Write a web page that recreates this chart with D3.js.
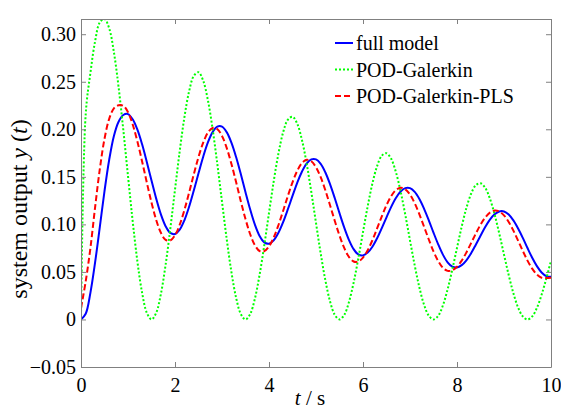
<!DOCTYPE html>
<html>
<head>
<meta charset="utf-8">
<script src="https://d3js.org/d3.v7.min.js"></script>
<style>
body { margin: 0; background: #fff; }
svg text { font-family: "Liberation Serif", "DejaVu Serif", serif; fill: #000; }
.axis line, .axis path { stroke: #808080; }
</style>
</head>
<body>
<script>
var width = 561, height = 409;
var margin = {top: 19, right: 10, bottom: 42, left: 81};
var serif = "Liberation Serif, DejaVu Serif, serif";

// time samples (s), step 0.1
var time = d3.range(0, 101).map(function(i) { return i / 10; });

// full model
var fullModel = [
 0.0000, 0.0060, 0.0280, 0.0600, 0.0970, 0.1350, 0.1680, 0.1930, 0.2080, 0.2150,
 0.2160, 0.2105, 0.1996, 0.1842, 0.1657, 0.1461, 0.1271, 0.1105, 0.0981, 0.0910,
 0.0898, 0.0944, 0.1043, 0.1185, 0.1356, 0.1537, 0.1712, 0.1862, 0.1970, 0.2028,
 0.2028, 0.1970, 0.1860, 0.1708, 0.1529, 0.1338, 0.1156, 0.0997, 0.0878, 0.0810,
 0.0797, 0.0833, 0.0911, 0.1023, 0.1157, 0.1299, 0.1437, 0.1554, 0.1639, 0.1684,
 0.1684, 0.1637, 0.1546, 0.1421, 0.1275, 0.1118, 0.0968, 0.0838, 0.0740, 0.0684,
 0.0674, 0.0703, 0.0765, 0.0854, 0.0961, 0.1074, 0.1184, 0.1277, 0.1345, 0.1381,
 0.1381, 0.1342, 0.1267, 0.1164, 0.1043, 0.0913, 0.0790, 0.0682, 0.0601, 0.0555,
 0.0546, 0.0571, 0.0622, 0.0696, 0.0786, 0.0880, 0.0972, 0.1050, 0.1106, 0.1136,
 0.1136, 0.1104, 0.1042, 0.0957, 0.0858, 0.0751, 0.0649, 0.0561, 0.0494, 0.0456,
 0.0449
];

// POD-Galerkin
var podGalerkin = [
 0.0000, 0.2159, 0.2593, 0.2925, 0.3124, 0.3160, 0.3062, 0.2811, 0.2443, 0.1994,
 0.1508, 0.1032, 0.0610, 0.0280, 0.0071, 0.0000, 0.0070, 0.0269, 0.0574, 0.0953,
 0.1366, 0.1770, 0.2126, 0.2399, 0.2562, 0.2600, 0.2511, 0.2306, 0.2004, 0.1636,
 0.1237, 0.0846, 0.0500, 0.0229, 0.0058, 0.0000, 0.0057, 0.0220, 0.0471, 0.0782,
 0.1120, 0.1452, 0.1743, 0.1967, 0.2100, 0.2132, 0.2059, 0.1890, 0.1643, 0.1341,
 0.1015, 0.0694, 0.0410, 0.0188, 0.0048, 0.0000, 0.0047, 0.0181, 0.0386, 0.0641,
 0.0919, 0.1191, 0.1430, 0.1613, 0.1723, 0.1748, 0.1689, 0.1550, 0.1347, 0.1100,
 0.0832, 0.0569, 0.0336, 0.0154, 0.0039, 0.0000, 0.0038, 0.0148, 0.0317, 0.0526,
 0.0753, 0.0976, 0.1173, 0.1322, 0.1412, 0.1433, 0.1384, 0.1271, 0.1104, 0.0902,
 0.0682, 0.0467, 0.0276, 0.0126, 0.0032, 0.0000, 0.0032, 0.0122, 0.0260, 0.0431,
 0.0618
];

// POD-Galerkin-PLS
var podGalerkinPLS = [
 0.0120, 0.0400, 0.0750, 0.1180, 0.1580, 0.1900, 0.2110, 0.2220, 0.2253, 0.2247,
 0.2180, 0.2050, 0.1872, 0.1662, 0.1441, 0.1229, 0.1046, 0.0912, 0.0837, 0.0830,
 0.0885, 0.0996, 0.1151, 0.1334, 0.1527, 0.1708, 0.1859, 0.1965, 0.2014, 0.2002,
 0.1930, 0.1804, 0.1637, 0.1445, 0.1244, 0.1056, 0.0896, 0.0781, 0.0720, 0.0718,
 0.0768, 0.0862, 0.0991, 0.1141, 0.1297, 0.1442, 0.1562, 0.1644, 0.1679, 0.1664,
 0.1601, 0.1496, 0.1357, 0.1199, 0.1036, 0.0883, 0.0753, 0.0659, 0.0610, 0.0609,
 0.0650, 0.0728, 0.0833, 0.0957, 0.1084, 0.1202, 0.1297, 0.1361, 0.1386, 0.1369,
 0.1313, 0.1222, 0.1106, 0.0974, 0.0841, 0.0716, 0.0615, 0.0544, 0.0511, 0.0517,
 0.0554, 0.0619, 0.0705, 0.0803, 0.0903, 0.0996, 0.1072, 0.1124, 0.1146, 0.1136,
 0.1095, 0.1025, 0.0934, 0.0829, 0.0721, 0.0619, 0.0534, 0.0472, 0.0439, 0.0436,
 0.0440
];

var seriesNames = ["full model", "POD-Galerkin", "POD-Galerkin-PLS"];
var seriesColors = ["#0000ff", "#00ff00", "#ff0000"];
var seriesDash = [null, "2,2", "6,3"];
var xTicks = [0, 2, 4, 6, 8, 10];
var yTicks = [-0.05, 0, 0.05, 0.10, 0.15, 0.20, 0.25, 0.30];
var yTickLabels = ["\u22120.05", "0", "0.05", "0.10", "0.15", "0.20", "0.25", "0.30"];

var svg = d3.select("body").append("svg")
    .attr("width", width)
    .attr("height", height)
    .attr("font-family", serif);

var x = d3.scaleLinear().domain([0, 10]).range([margin.left, width - margin.right]);
var y = d3.scaleLinear().domain([-0.05, 0.316]).range([height - margin.bottom, margin.top]);

svg.append("clipPath").attr("id", "clip")
  .append("rect")
    .attr("x", x(0)).attr("y", y(0.316))
    .attr("width", x(10) - x(0)).attr("height", y(-0.05) - y(0.316));

// curves
var allSeries = [fullModel, podGalerkin, podGalerkinPLS];
var line = d3.line()
    .x(function(d) { return x(d[0]); })
    .y(function(d) { return y(d[1]); })
    .curve(d3.curveCatmullRom);

var curves = svg.append("g").attr("clip-path", "url(#clip)");
allSeries.forEach(function(s, i) {
  curves.append("path")
    .datum(time.map(function(t, j) { return [t, s[j]]; }))
    .attr("d", line)
    .attr("fill", "none")
    .attr("stroke", seriesColors[i])
    .attr("stroke-width", 2)
    .attr("stroke-dasharray", seriesDash[i]);
});

// axes (box with inward ticks)
var fmtY = function(d) { return yTickLabels[yTicks.indexOf(d)]; };
svg.append("g").attr("class", "axis")
    .attr("transform", "translate(0," + y(-0.05) + ")")
    .call(d3.axisBottom(x).tickValues(xTicks).tickSizeInner(-5).tickSizeOuter(0).tickPadding(11));
svg.append("g").attr("class", "axis")
    .attr("transform", "translate(0," + y(0.316) + ")")
    .call(d3.axisTop(x).tickValues(xTicks).tickSizeInner(-5).tickSizeOuter(0).tickFormat(""));
svg.append("g").attr("class", "axis")
    .attr("transform", "translate(" + x(0) + ",0)")
    .call(d3.axisLeft(y).tickValues(yTicks).tickSizeInner(-5).tickSizeOuter(0).tickPadding(5).tickFormat(fmtY));
svg.append("g").attr("class", "axis")
    .attr("transform", "translate(" + x(10) + ",0)")
    .call(d3.axisRight(y).tickValues(yTicks).tickSizeInner(-5).tickSizeOuter(0).tickFormat(""));

svg.selectAll(".axis")
    .attr("font-family", serif)
    .attr("font-size", 20);
svg.selectAll(".axis text").attr("fill", "#000");

// legend
var legend = svg.append("g");
seriesNames.forEach(function(name, i) {
  var ly = 43 + i * 26.5;
  legend.append("line")
    .attr("x1", 335).attr("x2", 353)
    .attr("y1", ly).attr("y2", ly)
    .attr("stroke", seriesColors[i])
    .attr("stroke-width", 2)
    .attr("stroke-dasharray", seriesDash[i]);
  legend.append("text")
    .attr("x", 356).attr("y", ly + 7)
    .attr("font-size", 20)
    .text(name);
});

// axis labels
var yl = svg.append("text")
    .attr("transform", "translate(27,209) rotate(-90)")
    .attr("text-anchor", "middle")
    .attr("font-size", 24);
yl.append("tspan").text("system output ");
yl.append("tspan").attr("font-style", "italic").text("y");
yl.append("tspan").text(" (");
yl.append("tspan").attr("font-style", "italic").text("t");
yl.append("tspan").text(")");

var xl = svg.append("text")
    .attr("x", 310).attr("y", 405)
    .attr("text-anchor", "middle")
    .attr("font-size", 21);
xl.append("tspan").attr("font-style", "italic").text("t");
xl.append("tspan").text(" / s");
</script>
</body>
</html>
